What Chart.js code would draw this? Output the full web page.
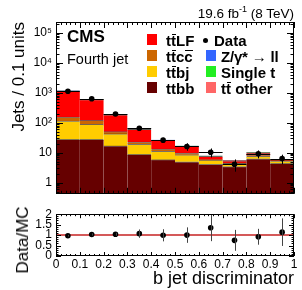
<!DOCTYPE html>
<html><head><meta charset="utf-8">
<script src="https://cdn.jsdelivr.net/npm/chart.js@4/dist/chart.umd.min.js"></script>
<style>
body{margin:0;background:#fff;width:302px;height:290px;overflow:hidden;position:relative;font-family:'Liberation Sans',Arial,Helvetica,sans-serif;color:#000;}
canvas{position:absolute;left:0;}
#c1{top:0;}
#c2{top:203px;}
.t{position:absolute;white-space:nowrap;line-height:1;}
.ov{position:relative;display:inline-block;}
.ov::after{content:'';position:absolute;left:0.5px;right:0;top:1px;border-top:1.2px solid #000;}
.lt{position:absolute;white-space:nowrap;font-weight:bold;font-size:15px;line-height:15px;}
.sw{position:absolute;width:10px;height:11px;}
</style></head>
<body>
<canvas id="c1" width="302" height="205"></canvas>
<canvas id="c2" width="302" height="87"></canvas>

<div class="t" style="right:8px;top:7px;font-size:13.5px;">19.6 fb<sup style="font-size:9px;vertical-align:6px;line-height:0">-1</sup> (8 TeV)</div>
<div class="t" style="left:67px;top:28px;font-size:17px;font-weight:bold;">CMS</div>
<div class="t" style="left:67px;top:52px;font-size:14.5px;">Fourth jet</div>

<div class="sw" style="left:147px;top:34px;background:#ff0000"></div>
<div class="lt" style="left:166px;top:32.5px">t<span class="ov">t</span>LF</div>
<div class="sw" style="left:147px;top:50px;background:#cc6600"></div>
<div class="lt" style="left:166px;top:48.5px">t<span class="ov">t</span>c<span class="ov">c</span></div>
<div class="sw" style="left:147px;top:66px;background:#ffcc00"></div>
<div class="lt" style="left:166px;top:64.5px">t<span class="ov">t</span>bj</div>
<div class="sw" style="left:147px;top:82px;background:#660000"></div>
<div class="lt" style="left:166px;top:80.5px">ttbb</div>

<div style="position:absolute;left:202.5px;top:37.5px;width:5px;height:5px;border-radius:50%;background:#000"></div>
<div class="lt" style="left:214px;top:32.5px">Data</div>
<div class="sw" style="left:206px;top:50px;background:#3366ff"></div>
<div class="lt" style="left:221px;top:48.5px;letter-spacing:-0.2px">Z/γ* → ll</div>
<div class="sw" style="left:206px;top:66px;background:#22ee22"></div>
<div class="lt" style="left:221px;top:64.5px">Single t</div>
<div class="sw" style="left:206px;top:82px;background:#ff6666"></div>
<div class="lt" style="left:221px;top:80.5px">t<span class="ov">t</span> other</div>

<div class="t" style="left:23px;top:240px;font-size:17px;line-height:20px;transform:translate(-50%,-50%) rotate(-90deg);">Data/MC</div>

<script>
// ---- data ----
const binCenters = [0.05, 0.15, 0.25, 0.35, 0.45, 0.55, 0.65, 0.75, 0.85, 0.95];
const xTickLabels = ['0','0.1','0.2','0.3','0.4','0.5','0.6','0.7','0.8','0.9','1'];
const yMainTicks = [1, 10, 100, 1000, 10000, 100000];
const yMainTickLabels = ['1','10','10²','10³','10⁴','10⁵'];
const yRatioTicks = [0, 0.5, 1, 1.5, 2];
const yRatioTickLabels = ['0','0.5','1','1.5','2'];

const ttbb    = [27.5, 27.5, 16.7, 8.7, 5.8, 4.9, 4.05, 3.4, 6.2, 4.35];
const ttbj    = [85.5, 59.5, 25.3, 10.3, 5.2, 3.5, 1.55, 0.95, 1.3, 0.85];
const ttcc    = [39, 32, 8, 3.4, 2, 1.2, 0.2, 0.15, 0.5, 0.1];
const ttLF    = [979, 476, 131.5, 37.3, 12.45, 6.6, 1.75, 0.85, 1.85, 0.16];
const ttOther = [5, 3, 1, 0.4, 0.2, 0.1, 0.05, 0.05, 0.05, 0.03];
const singleT = [8, 4, 1.5, 0.5, 0.2, 0.1, 0.05, 0.05, 0.05, 0.03];
const zll     = [6, 3, 1, 0.4, 0.15, 0.1, 0.05, 0.05, 0.05, 0.03];

const dataVals = [1120, 630, 195, 65, 26, 16, 10.3, 4.1, 9.1, 6.3];
const dataErr  = [30, 20, 12, 8, 5, 4.5, 3.4, 1.8, 2.7, 2.2];
const ratioVals = [0.97, 1.03, 1.04, 1.07, 0.99, 1.0, 1.35, 0.75, 0.92, 1.14];
const ratioErr  = [0.04, 0.05, 0.07, 0.2, 0.29, 0.37, 0.64, 0.5, 0.38, 0.66];
const binHalfWidth = 0.05;

// ---- helpers ----
const FONT = "'Liberation Sans', Arial, sans-serif";
Chart.defaults.font.family = FONT;
Chart.defaults.color = '#000';
const pts = arr => binCenters.map((x, i) => ({x, y: arr[i]}));

const rootFrame = {
  id: 'rootFrame',
  afterDraw(chart, args, o) {
    const {ctx, chartArea: a, scales} = chart;
    const xs = scales.x, ys = scales.y;
    ctx.save();
    ctx.strokeStyle = '#000';
    ctx.lineWidth = 1;
    ctx.beginPath();
    for (let k = 0; k <= 50; k++) {
      const px = Math.round(xs.getPixelForValue(k / 50)) + 0.5;
      const L = (k % 5 === 0) ? o.xMajor : o.xMinor;
      ctx.moveTo(px, a.bottom); ctx.lineTo(px, a.bottom - L);
      ctx.moveTo(px, a.top); ctx.lineTo(px, a.top + L);
    }
    const yt = [];
    if (o.log) {
      for (let e = -1; e <= 5; e++) for (let m = 1; m <= 9; m++) {
        const v = m * Math.pow(10, e);
        if (v >= ys.min && v <= ys.max) yt.push([v, m === 1]);
      }
    } else {
      for (let k = 0; k <= 20; k++) yt.push([k / 10, k % 5 === 0]);
    }
    for (const [v, maj] of yt) {
      const py = Math.round(ys.getPixelForValue(v)) + 0.5;
      const L = maj ? o.yMajor : o.yMinor;
      ctx.moveTo(a.left, py); ctx.lineTo(a.left + L, py);
      ctx.moveTo(a.right, py); ctx.lineTo(a.right - L, py);
    }
    ctx.stroke();
    ctx.strokeRect(Math.round(a.left) + 0.5, Math.round(a.top) + 0.5,
                   Math.round(a.right - a.left) - 1, Math.round(a.bottom - a.top) - 1);
    ctx.restore();
  }
};

const errBars = {
  id: 'errBars',
  afterDatasetsDraw(chart, args, o) {
    const {ctx, chartArea: a, scales} = chart;
    const xs = scales.x, ys = scales.y;
    ctx.save();
    ctx.beginPath();
    ctx.rect(a.left, a.top, a.right - a.left, a.bottom - a.top);
    ctx.clip();
    ctx.strokeStyle = o.color;
    ctx.lineWidth = 1;
    ctx.beginPath();
    o.vals.forEach((v, i) => {
      const px = Math.round(xs.getPixelForValue(binCenters[i])) + 0.5;
      const lo = Math.max(v - o.errs[i], ys.min);
      ctx.moveTo(px, ys.getPixelForValue(v + o.errs[i]));
      ctx.lineTo(px, ys.getPixelForValue(lo));
      if (o.hbar) {
        const py = Math.round(ys.getPixelForValue(v)) + 0.5;
        ctx.moveTo(xs.getPixelForValue(binCenters[i] - binHalfWidth), py);
        ctx.lineTo(xs.getPixelForValue(binCenters[i] + binHalfWidth), py);
      }
    });
    ctx.stroke();
    ctx.restore();
  }
};

const barDs = (label, arr, color) => ({
  type: 'bar', label, data: pts(arr), backgroundColor: color,
  borderColor: 'rgba(0,0,0,0.5)', borderWidth: {top: 1, right: 0, bottom: 0, left: 0},
  borderSkipped: false, stack: 'mc', barPercentage: 1, categoryPercentage: 1
});

new Chart(document.getElementById('c1'), {
  type: 'bar',
  data: {
    datasets: [
      barDs('ttbb', ttbb, '#660000'),
      barDs('ttbj', ttbj, '#ffcc00'),
      barDs('ttcc', ttcc, '#cc6600'),
      barDs('ttLF', ttLF, '#ff0000'),
      barDs('tt other', ttOther, '#ff6666'),
      barDs('Single t', singleT, '#22ee22'),
      barDs('Z/γ* → ll', zll, '#3366ff'),
      {type: 'scatter', label: 'Data', data: pts(dataVals), stack: 'data', order: -1,
       pointRadius: 2.8, pointBackgroundColor: '#000', pointBorderWidth: 0, showLine: false}
    ]
  },
  options: {
    responsive: false, animation: false, devicePixelRatio: 1,
    layout: {padding: {left: 0, right: 8, top: 22, bottom: 3}},
    plugins: {
      legend: {display: false}, tooltip: {enabled: false},
      rootFrame: {log: true, xMajor: 6, xMinor: 3, yMajor: 7, yMinor: 3.5},
      errBars: {vals: dataVals, errs: dataErr, color: '#000', hbar: true}
    },
    scales: {
      x: {type: 'linear', min: 0, max: 1, offset: false, stacked: true, display: false,
          ticks: {stepSize: 0.1}},
      y: {type: 'logarithmic', min: 0.42, max: 230000, stacked: true,
          grid: {display: false, drawTicks: false}, border: {display: false},
          afterBuildTicks: s => { s.ticks = yMainTicks.map(v => ({value: v})); },
          afterFit: s => { s.width = 56; },
          ticks: {autoSkip: false, padding: 4, font: {size: 12},
                  callback: v => yMainTickLabels[yMainTicks.indexOf(v)]},
          title: {display: true, text: 'Jets / 0.1 units', align: 'end',
                  font: {size: 17}, padding: {top: 9, bottom: 0}}}
    }
  },
  plugins: [rootFrame, errBars]
});

new Chart(document.getElementById('c2'), {
  type: 'scatter',
  data: {
    datasets: [
      {type: 'scatter', label: 'Data/MC', data: pts(ratioVals), order: -1,
       pointRadius: 2.8, pointBackgroundColor: '#000', pointBorderWidth: 0, showLine: false},
      {type: 'line', label: 'unity', data: [{x: 0, y: 1}, {x: 1, y: 1}], order: 1,
       borderColor: 'rgba(205,60,60,0.85)', borderWidth: 2, pointRadius: 0}
    ]
  },
  options: {
    responsive: false, animation: false, devicePixelRatio: 1,
    layout: {padding: {left: 0, right: 8, top: 5, bottom: 0}},
    plugins: {
      legend: {display: false}, tooltip: {enabled: false},
      rootFrame: {log: false, xMajor: 4, xMinor: 2, yMajor: 5, yMinor: 2.5},
      errBars: {vals: ratioVals, errs: ratioErr, color: '#444', hbar: false}
    },
    scales: {
      x: {type: 'linear', min: 0, max: 1,
          grid: {display: false, drawTicks: false}, border: {display: false},
          afterBuildTicks: s => { s.ticks = xTickLabels.map((l, i) => ({value: i / 10})); },
          afterFit: s => { s.height = 34; },
          ticks: {autoSkip: false, maxRotation: 0, padding: 1, font: {size: 12},
                  callback: (v, i) => xTickLabels[i]},
          title: {display: true, text: 'b jet discriminator', align: 'end',
                  font: {size: 18}, padding: {top: 0, bottom: 0}}},
      y: {type: 'linear', min: 0, max: 2,
          grid: {display: false, drawTicks: false}, border: {display: false},
          afterBuildTicks: s => { s.ticks = yRatioTicks.map(v => ({value: v})); },
          afterFit: s => { s.width = 56; },
          ticks: {autoSkip: false, padding: 4, font: {size: 12},
                  callback: (v, i) => yRatioTickLabels[i]}}
    }
  },
  plugins: [rootFrame, errBars]
});
</script>
</body></html>
